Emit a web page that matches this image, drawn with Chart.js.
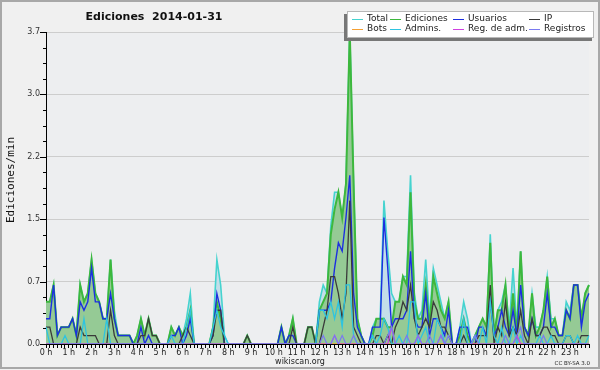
<!DOCTYPE html>
<html><head><meta charset="utf-8">
<script src="https://cdn.jsdelivr.net/npm/chart.js@4/dist/chart.umd.min.js"></script>
<style>html,body{margin:0;padding:0;background:#f0f0f0;}canvas{display:block;}</style>
</head><body>
<canvas id="c" width="600" height="370"></canvas>
<script>
const titleText = 'Ediciones  2014-01-31';
const yTitle = 'Ediciones/min';
const hourLabels = ['0 h','1 h','2 h','3 h','4 h','5 h','6 h','7 h','8 h','9 h','10 h','11 h','12 h','13 h','14 h','15 h','16 h','17 h','18 h','19 h','20 h','21 h','22 h','23 h'];
const minuteLabels = ['00','10','20','30','40','50'];
const yTickLabels = ['0.0','0.7','1.5','2.2','3.0','3.7'];
const yMajor = [0, 0.74, 1.48, 2.22, 2.96, 3.7];
const seriesNames = ['Total','Ediciones','Usuarios','IP','Bots','Admins.','Reg. de adm.','Registros'];

const total = [
0.5,0.5,0.7,0.1,0.2,0.2, 0.2,0.3,0.1,0.7,0.5,0.6, 1.0,0.6,0.5,0.3,0.3,1.0, 0.4,0.1,0.1,0.1,0.1,0,
0.1,0.3,0.1,0.3,0.1,0.1, 0,0,0,0.2,0.1,0.2, 0.1,0.3,0.6,0,0,0, 0,0,0.2,1.0,0.7,0.1,
0,0,0,0,0,0.1, 0,0,0,0,0,0, 0,0,0.2,0,0.1,0.3, 0,0,0,0.2,0.2,0,
0.5,0.7,0.6,1.4,1.8,1.8, 1.5,1.9,3.7,1.9,0.3,0.1, 0,0,0.2,0.3,0.3,1.7, 1.1,0.6,0.5,0.5,0.8,0.8,
2.0,0.6,0.3,0.4,1.0,0.3, 0.9,0.7,0.5,0.3,0.5,0, 0,0.2,0.5,0.3,0,0.1, 0.2,0.3,0.2,1.3,0.1,0.4,
0.5,0.7,0.2,0.9,0.2,1.1, 0.2,0.1,0.6,0.2,0.2,0.4, 0.8,0.3,0.3,0.1,0.1,0.5, 0.4,0.7,0.7,0.3,0.6,0.7];
const ediciones = [
0.5,0.5,0.7,0.1,0.2,0.2, 0.2,0.3,0.1,0.7,0.5,0.6, 1.0,0.6,0.5,0.3,0.3,1.0, 0.3,0.1,0.1,0.1,0.1,0,
0.1,0.3,0.1,0.3,0.1,0.1, 0,0,0,0.2,0.1,0.2, 0.1,0.2,0.4,0,0,0, 0,0,0.2,0.5,0.3,0,
0,0,0,0,0,0.1, 0,0,0,0,0,0, 0,0,0.2,0,0.1,0.3, 0,0,0,0.2,0.2,0,
0.4,0.5,0.6,1.3,1.6,1.8, 1.5,1.9,3.7,1.9,0.3,0.1, 0,0,0.1,0.3,0.3,0.3, 0.2,0.2,0.5,0.5,0.8,0.7,
1.8,0.5,0.3,0.3,0.7,0.2, 0.8,0.6,0.4,0.3,0.5,0, 0,0.1,0.3,0.1,0,0.1, 0.2,0.3,0.2,1.2,0.1,0.4,
0.4,0.7,0.1,0.6,0.1,1.1, 0.2,0.1,0.6,0.1,0.2,0.4, 0.8,0.2,0.3,0.1,0.1,0.4, 0.3,0.7,0.7,0.3,0.6,0.7];
const usuarios = [
0.3,0.3,0.7,0.1,0.2,0.2, 0.2,0.3,0.1,0.5,0.4,0.5, 0.9,0.5,0.5,0.3,0.3,0.6, 0.3,0.1,0.1,0.1,0.1,0,
0,0.2,0,0.1,0,0, 0,0,0,0.1,0.1,0.2, 0,0.1,0.3,0,0,0, 0,0,0.1,0.6,0.4,0,
0,0,0,0,0,0, 0,0,0,0,0,0, 0,0,0.2,0,0.1,0.1, 0,0,0,0,0,0,
0.4,0.4,0.4,0.5,0.9,1.2, 1.1,1.5,2.0,0.6,0.2,0.1, 0,0,0.2,0.2,0.2,1.5, 0.9,0.2,0.3,0.3,0.3,0.4,
1.1,0.3,0.2,0.2,0.6,0.1, 0.3,0.3,0.2,0.1,0.4,0, 0,0.2,0.2,0.2,0,0, 0.2,0.2,0.1,0.5,0.1,0.2,
0.4,0.2,0.1,0.4,0.1,0.7, 0.2,0.1,0.3,0.1,0.1,0.2, 0.6,0.2,0.2,0.1,0.1,0.4, 0.3,0.7,0.7,0.2,0.5,0.6];
const ip = [
0.2,0.2,0,0,0,0, 0,0,0,0.2,0.1,0.1, 0.1,0.1,0,0,0,0.4, 0.1,0,0,0,0,0,
0,0.1,0.1,0.3,0.1,0.1, 0,0,0,0,0,0, 0.1,0.2,0.1,0,0,0, 0,0,0.1,0.4,0.4,0,
0,0,0,0,0,0.1, 0,0,0,0,0,0, 0,0,0,0,0,0.2, 0,0,0,0.2,0.2,0,
0,0.2,0.4,0.8,0.8,0.6, 0.3,0.6,1.7,0.2,0.1,0, 0,0,0,0.1,0.1,0, 0.1,0,0.2,0.3,0.5,0.4,
0.7,0.3,0.1,0.2,0.3,0.2, 0.5,0.4,0.2,0.2,0.1,0, 0,0,0.1,0,0,0, 0.1,0.1,0.1,0.7,0,0.2,
0.1,0.5,0.1,0.2,0.1,0.4, 0.1,0,0.3,0.1,0.1,0.2, 0.2,0.1,0.1,0,0,0.1, 0.1,0,0,0.1,0.1,0.1];
const bots = [
0,0,0,0,0,0, 0,0,0,0,0,0, 0,0,0,0,0,0, 0,0,0,0,0,0,
0,0,0,0,0,0, 0,0,0,0,0,0, 0,0,0,0,0,0, 0,0,0,0,0,0,
0,0,0,0,0,0, 0,0,0,0,0,0, 0,0,0,0,0,0, 0,0,0,0,0,0,
0,0,0,0,0,0, 0,0,0,0,0,0, 0,0,0,0,0,0, 0,0,0,0,0,0,
0,0,0,0,0,0, 0,0,0,0,0,0, 0,0,0,0,0,0, 0,0,0,0,0,0,
0,0,0,0,0,0, 0,0,0,0,0,0, 0,0,0,0,0,0, 0,0,0,0,0,0];
const admins = [
0.2,0,0,0,0,0.1, 0,0,0,0,0.3,0, 0,0,0,0,0.3,0, 0,0,0,0,0,0,
0,0,0,0,0,0, 0,0,0,0.1,0,0, 0,0.2,0.4,0,0,0, 0,0,0.2,0.4,0.2,0.1,
0,0,0,0,0,0, 0,0,0,0,0,0, 0,0,0,0,0,0, 0,0,0,0,0,0,
0.4,0.4,0.3,0.5,0.3,0.5, 0.2,0.7,0.7,0.1,0,0, 0,0,0.1,0,0.1,0.3, 0.2,0,0,0.1,0,0,
0.5,0.5,0,0.1,0.2,0, 0,0.3,0.2,0,0,0, 0,0,0.3,0,0,0.1, 0,0.2,0,0.5,0.1,0,
0.2,0,0,0.2,0,0.1, 0,0,0,0,0.1,0, 0,0.1,0,0,0,0.1, 0.1,0,0.1,0,0,0.1];
const regAdm = [
0,0,0,0,0,0, 0,0,0,0,0,0, 0,0,0,0,0,0, 0,0,0,0,0,0,
0,0,0,0,0,0, 0,0,0,0,0,0, 0,0,0,0,0,0, 0,0,0,0,0,0,
0,0,0,0,0,0, 0,0,0,0,0,0, 0,0,0,0,0,0, 0,0,0,0,0,0,
0,0,0,0,0.1,0, 0,0,0,0,0,0, 0,0,0,0,0,0, 0,0.2,0,0,0,0,
0,0,0.1,0,0,0, 0,0,0.1,0,0,0, 0,0,0,0,0,0, 0,0,0,0,0,0,
0,0,0,0,0.1,0, 0,0,0,0,0,0, 0,0,0,0,0,0, 0,0,0,0,0,0];
const registros = [
0,0,0,0,0,0, 0,0,0,0,0,0, 0,0,0,0,0,0, 0,0,0,0,0,0,
0,0,0,0,0,0, 0,0,0,0,0,0, 0,0,0,0,0,0, 0,0,0,0,0,0,
0,0,0,0,0,0, 0,0,0,0,0,0, 0,0,0,0,0,0, 0,0,0,0,0,0,
0,0.1,0,0,0.1,0, 0.1,0,0,0.1,0,0, 0,0,0,0,0,0, 0.1,0.2,0,0,0,0.1,
0,0,0.1,0,0,0.1, 0,0,0.1,0,0.1,0, 0,0,0,0,0,0.1, 0,0,0,0,0,0,
0,0.1,0,0,0.1,0.2, 0,0,0,0,0,0.1, 0,0,0,0,0,0, 0,0,0,0,0,0];

const slots = [];
hourLabels.forEach(h => minuteLabels.forEach(m => slots.push(h + m)));

const colors = ['#45d3cf','#3db83d','#1c2fe0','#3a3a3a','#f5a033','#2ec4e0','#d040e0','#7a7af0'];
const widths = [1.6,2,1.4,1.3,1.3,1.3,1.2,1.2];
const values = [total, ediciones, usuarios, ip, bots, admins, regAdm, registros];
const fills = ['#c3dee9','#95ca95'];

const datasets = values.map((d, k) => ({
  label: seriesNames[k],
  data: d,
  borderColor: colors[k],
  borderWidth: widths[k],
  backgroundColor: k < 2 ? fills[k] : colors[k],
  fill: k < 2 ? 'origin' : false,
  pointRadius: 0,
  tension: 0,
  order: 8 - k
}));

const FONT = '"DejaVu Sans", sans-serif';

const deco = {
  id: 'deco',
  beforeDraw(chart) {
    const { ctx, chartArea: a } = chart;
    ctx.save();
    ctx.fillStyle = '#f0f0f0';
    ctx.fillRect(0, 0, 600, 370);
    ctx.fillStyle = '#edeef0';
    ctx.fillRect(a.left, a.top, a.right - a.left, a.bottom - a.top);
    ctx.restore();
  },
  afterDraw(chart) {
    const { ctx, chartArea: a, scales } = chart;
    const y = scales.y;
    ctx.save();
    ctx.strokeStyle = '#000';
    ctx.lineWidth = 1;
    y.ticks.forEach((t, i) => {
      const py = Math.round(y.getPixelForValue(t.value)) + 0.5;
      const len = i % 4 === 0 ? 6 : 3;
      ctx.beginPath();
      ctx.moveTo(a.left - len, py);
      ctx.lineTo(a.left, py);
      ctx.stroke();
    });
    // title
    ctx.fillStyle = '#111';
    ctx.font = 'bold 11px ' + FONT;
    ctx.textAlign = 'center';
    ctx.textBaseline = 'alphabetic';
    ctx.fillText(titleText, 154, 20);
    // y title
    ctx.save();
    ctx.translate(14, 180);
    ctx.rotate(-Math.PI / 2);
    ctx.font = '11px "DejaVu Sans Mono", monospace';
    ctx.fillStyle = '#111';
    ctx.fillText(yTitle, 0, 0);
    ctx.restore();
    // footer
    ctx.font = '8px ' + FONT;
    ctx.fillStyle = '#222';
    ctx.textAlign = 'center';
    ctx.fillText('wikiscan.org', 300, 364);
    ctx.font = '5.5px ' + FONT;
    ctx.textAlign = 'right';
    ctx.fillText('CC BY-SA 3.0', 590, 365);
    // legend
    ctx.fillStyle = '#777';
    ctx.fillRect(344, 14, 248, 27);
    ctx.fillStyle = '#ffffff';
    ctx.fillRect(347, 11, 247, 27);
    ctx.strokeStyle = '#b8b8b8';
    ctx.strokeRect(347.5, 11.5, 246, 26);
    const colX = [352, 390, 453, 529];
    const rowY = [19, 28.5];
    ctx.font = '9px ' + FONT;
    ctx.textAlign = 'left';
    ctx.textBaseline = 'middle';
    seriesNames.forEach((n, k) => {
      const c = k % 4, r = Math.floor(k / 4);
      const x = colX[c], yy = rowY[r];
      ctx.strokeStyle = colors[k];
      ctx.lineWidth = 1;
      ctx.beginPath();
      ctx.moveTo(x, Math.round(yy) + 0.5);
      ctx.lineTo(x + 11, Math.round(yy) + 0.5);
      ctx.stroke();
      ctx.fillStyle = '#222';
      ctx.fillText(n, x + 15, yy);
    });
    // frame
    ctx.strokeStyle = '#a8a8a8';
    ctx.lineWidth = 2;
    ctx.strokeRect(1, 1, 598, 367);
    ctx.restore();
  }
};

new Chart(document.getElementById('c'), {
  type: 'line',
  data: { labels: slots, datasets },
  options: {
    responsive: false,
    animation: false,
    devicePixelRatio: 1,
    layout: { padding: { top: 32, right: 11, left: 0, bottom: 0 } },
    plugins: { legend: { display: false }, tooltip: { enabled: false } },
    scales: {
      x: {
        type: 'category',
        offset: false,
        afterFit: s => { s.height = 26; },
        grid: { drawOnChartArea: false, drawTicks: true, tickLength: 4, tickColor: '#000' },
        border: { color: '#000', width: 1 },
        ticks: {
          autoSkip: false, maxRotation: 0, minRotation: 0, padding: 0,
          color: '#222', font: { family: 'DejaVu Sans', size: 8 },
          callback: (v, i) => (i % 6 === 0 ? hourLabels[i / 6] : '')
        }
      },
      y: {
        min: 0, max: yMajor[yMajor.length - 1],
        afterFit: s => { s.width = 46; },
        afterBuildTicks: s => {
          const t = [];
          for (let k = 0; k < yMajor.length - 1; k++) {
            for (let q = 0; q < 4; q++) t.push({ value: yMajor[k] + (yMajor[k + 1] - yMajor[k]) * q / 4 });
          }
          t.push({ value: yMajor[yMajor.length - 1] });
          s.ticks = t;
        },
        grid: {
          drawTicks: false,
          color: c => (c.index % 4 === 0 && c.index > 0 ? '#cdcdcd' : 'rgba(0,0,0,0)')
        },
        border: { color: '#000', width: 1 },
        ticks: {
          padding: 6, color: '#333', font: { family: 'DejaVu Sans', size: 8 },
          callback: (v, i) => (i % 4 === 0 ? yTickLabels[i / 4] : '')
        }
      }
    }
  },
  plugins: [deco]
});
</script>
</body></html>
